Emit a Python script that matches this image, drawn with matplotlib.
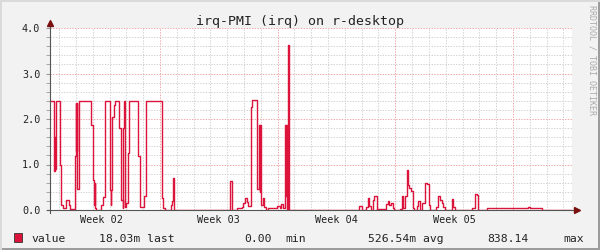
import matplotlib.pyplot as plt
from matplotlib.patches import Rectangle
from matplotlib.transforms import blended_transform_factory

plt.rcParams['font.family'] = ['DejaVu Sans Mono']

# days since start of window, value (step, post)
days = [0.03, 0.21, 0.24, 0.27, 0.30, 0.33, 0.58, 0.64, 0.77, 0.97,
        1.11, 1.17, 1.47, 1.53, 1.56, 1.59, 1.62, 1.73, 2.46, 2.58,
        2.62, 2.66, 2.69, 2.75, 3.05, 3.17, 3.29, 3.57, 3.61, 3.65,
        3.69, 3.78, 3.87, 4.10, 4.21, 4.33, 4.36, 4.40, 4.46, 4.52,
        4.66, 4.70, 5.22, 5.34, 5.57, 5.71, 6.64, 6.74, 6.82, 7.20,
        7.28, 7.33, 7.38, 10.73, 10.81, 11.11, 11.40, 11.50, 11.60, 11.70,
        11.80, 11.94, 12.02, 12.33, 12.45, 12.48, 12.51, 12.55, 12.65, 12.75,
        12.83, 12.99, 13.34, 13.52, 13.68, 13.74, 13.84, 13.98, 14.01, 14.04,
        14.08, 14.14, 14.22, 18.40, 18.54, 18.80, 18.90, 19.00, 19.10, 19.20,
        19.30, 19.43, 19.47, 19.99, 20.09, 20.18, 20.29, 20.39, 20.48, 20.82,
        20.92, 21.02, 21.12, 21.26, 21.31, 21.37, 21.46, 21.58, 21.65, 21.81,
        21.91, 22.01, 22.15, 22.31, 22.41, 22.56, 22.61, 22.86, 22.96, 23.10,
        23.20, 23.30, 23.40, 23.50, 23.90, 23.99, 24.09, 24.39, 24.49, 25.09,
        25.28, 25.38, 25.48, 26.01, 28.46, 28.55, 29.25, 29.35, 30.40, 30.46,
        31.05]
vals = [2.4, 1.75, 0.85, 1.6, 0.9, 2.4, 1.0, 0.1, 0.04, 0.22,
        0.1, 0.02, 1.18, 2.35, 1.3, 2.35, 0.46, 2.4, 1.87, 0.65,
        0.1, 0.6, 0.05, 0.01, 0.11, 0.28, 2.4, 0.44, 0.11, 0.44,
        2.05, 2.3, 2.4, 1.81, 0.22, 0.05, 1.81, 2.4, 0.07, 0.15,
        1.26, 2.4, 1.19, 0.06, 0.31, 2.4, 0.26, 0.04, 0.0, 0.1,
        0.2, 0.71, 0.0, 0.64, 0.0, 0.04, 0.07, 0.15, 0.26, 0.18,
        0.09, 2.26, 2.42, 0.47, 1.87, 0.4, 1.87, 0.11, 0.26, 0.07,
        0.0, 0.04, 0.05, 0.09, 0.05, 0.13, 0.05, 1.87, 0.3, 1.87,
        0.0, 3.62, 0.0, 0.09, 0.0, 0.07, 0.26, 0.09, 0.01, 0.21,
        0.3, 0.0, 0.02, 0.13, 0.19, 0.11, 0.16, 0.04, 0.0, 0.02,
        0.31, 0.04, 0.3, 0.87, 0.55, 0.48, 0.41, 0.04, 0.01, 0.09,
        0.19, 0.01, 0.16, 0.59, 0.58, 0.11, 0.01, 0.0, 0.07, 0.31,
        0.22, 0.15, 0.06, 0.0, 0.24, 0.07, 0.01, 0.0, 0.01, 0.04,
        0.35, 0.33, 0.0, 0.04, 0.06, 0.04, 0.01, 0.0, 0.01, 0.0,
        0.0]

week_starts = [6.54, 13.54, 20.54, 27.54]
week_labels = ['Week 02', 'Week 03', 'Week 04', 'Week 05']
y_ticks = [0, 1, 2, 3, 4]
y_labels = ['0.0', '1.0', '2.0', '3.0', '4.0']
stats = ['18.03m', '0.00', '526.54m', '838.14']
stat_names = ['last', 'min', 'avg', 'max']

W, H = 600, 250
line_col = '#DC143C'

fig = plt.figure(figsize=(6, 2.5), dpi=100, facecolor='#F2F2F2')
ax = fig.add_axes([50 / W, 40 / H, 522 / W, 182 / H])
ax.set_facecolor('white')
ax.set_xlim(0, 31.05)
ax.set_ylim(0, 4)
for s in ax.spines.values():
    s.set_visible(False)

# grid
dots = (0, (1.4, 1.4))
minor_days = [week_starts[0] - 6 + k for k in range(31)]
for d in minor_days:
    if min(abs(d - w) for w in week_starts) > 0.1:
        ax.axvline(d, color='#D2D2D2', lw=0.7, ls=dots, zorder=1)
for w in week_starts:
    ax.axvline(w, color='#F2A6A6', lw=0.7, ls=dots, zorder=1)
for k in range(1, 20):
    v = k * 0.2
    if abs(v - round(v)) > 0.01:
        ax.axhline(v, color='#D2D2D2', lw=0.7, ls=dots, zorder=1)
for v in y_ticks[1:]:
    ax.axhline(v, color='#F2A6A6', lw=0.7, ls=dots, zorder=1)

ax.step(days, vals, where='post', color=line_col, lw=1.0, zorder=3)

# axes with arrows
ax.plot([-3 / 522, 1.0096], [0, 0], transform=ax.transAxes, color='#555555',
        lw=0.8, clip_on=False, zorder=4)
ax.plot([0, 0], [-3 / 182, 1.027], transform=ax.transAxes, color='#555555',
        lw=0.8, clip_on=False, zorder=4)
ax.plot([1.0096], [0], marker='>', ms=4, color='#7A1010', transform=ax.transAxes,
        clip_on=False, zorder=5)
ax.plot([0], [1.027], marker='^', ms=4, color='#7A1010', transform=ax.transAxes,
        clip_on=False, zorder=5)

ax.set_xticks([])
ax.set_yticks(y_ticks, y_labels)
ax.set_yticks([k * 0.2 for k in range(21)], minor=True)
ax.tick_params(axis='y', which='both', length=3, color='#999999', pad=4,
               labelsize=7.3, labelcolor='#222222')

tr = blended_transform_factory(ax.transData, ax.transAxes)
for w, lab in zip(week_starts, week_labels):
    ax.text(w - 3.5, -13 / 182, lab, transform=tr, ha='center', va='baseline',
            fontsize=7.3, color='#222222')

fig.text(0.5, 1 - 25 / H, 'irq-PMI (irq) on r-desktop', ha='center',
         va='baseline', fontsize=9.5, color='#222222')
fig.text(592 / W, 1 - 5 / H, 'RRDTOOL / TOBI OETIKER', rotation=270,
         ha='center', va='top', fontsize=6, color='#AAAAAA')

# legend
fig.add_artist(Rectangle((14 / W, 1 - 242 / H), 8 / W, 9 / H,
                         transform=fig.transFigure, facecolor=line_col,
                         edgecolor='#333333', lw=0.6))
leg_y = 1 - 242 / H
fig.text(31 / W, leg_y, 'value', fontsize=8.2, va='baseline', color='#222222')
fig.text(99 / W, leg_y, f'{stats[0]} {stat_names[0]}', fontsize=8.2, va='baseline', color='#222222')
fig.text(244 / W, leg_y, stats[1], fontsize=8.2, va='baseline', color='#222222')
fig.text(285 / W, leg_y, stat_names[1], fontsize=8.2, va='baseline', color='#222222')
fig.text(368 / W, leg_y, f'{stats[2]} {stat_names[2]}', fontsize=8.2, va='baseline', color='#222222')
fig.text(487 / W, leg_y, stats[3], fontsize=8.2, va='baseline', color='#222222')
fig.text(563 / W, leg_y, stat_names[3], fontsize=8.2, va='baseline', color='#222222')

# shaded frame
fig.add_artist(Rectangle((0, 0), 1, 2 / H, transform=fig.transFigure,
                         facecolor='#9C9C9C', lw=0))
fig.add_artist(Rectangle((1 - 2 / W, 0), 2 / W, 1, transform=fig.transFigure,
                         facecolor='#9C9C9C', lw=0))
fig.add_artist(Rectangle((0, 1 - 2 / H), 1, 2 / H, transform=fig.transFigure,
                         facecolor='#DADADA', lw=0))
fig.add_artist(Rectangle((0, 0), 2 / W, 1, transform=fig.transFigure,
                         facecolor='#DADADA', lw=0))

fig.savefig('out.png', dpi=100, facecolor=fig.get_facecolor())
